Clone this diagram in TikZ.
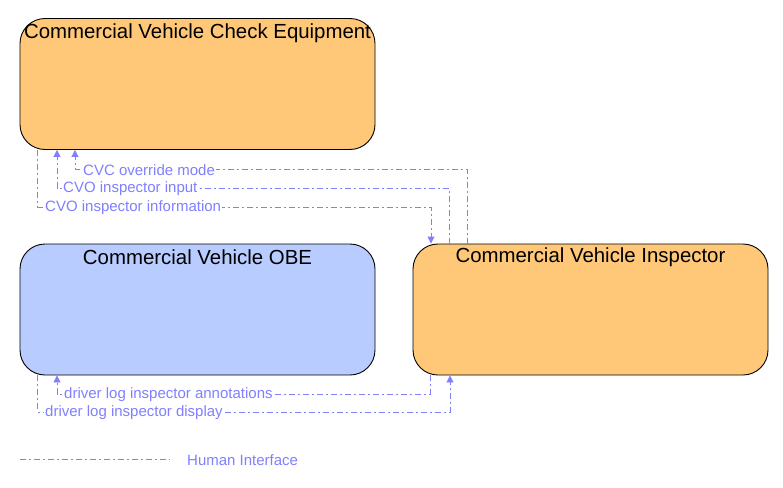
\documentclass[tikz,border=0pt]{standalone}
\usepackage{fontspec}
\setmainfont{Liberation Sans}
\usetikzlibrary{arrows.meta,calc}
\definecolor{boxorange}{RGB}{255,200,121}
\definecolor{boxblue}{RGB}{185,204,255}
\definecolor{flowcol}{RGB}{128,128,255}
\tikzset{
  sysbox/.style={draw=black, line width=0.9pt, rounded corners=25pt, minimum width=355pt, minimum height=131pt, inner sep=0pt},
  titletext/.style={font=\fontsize{20.4}{23}\selectfont, text=black},
  flow/.style={draw=flowcol, line width=0.9pt, dash pattern=on 6pt off 3pt on 2pt off 3pt},
  flowarrow/.style={flow, -{Triangle[width=7pt,length=7pt]}},
  flowlabel/.style={font=\fontsize{15}{17}\selectfont, text=flowcol, fill=white, inner sep=1pt, anchor=west}
}
\begin{document}
\begin{tikzpicture}[x=1pt,y=-1pt]
\useasboundingbox (0,0) rectangle (783,487);
\node[sysbox, fill=boxorange, label={[titletext, anchor=center, yshift=-15pt]north:Commercial Vehicle Check Equipment}] (cvce) at (197.5,84) {};
\node[sysbox, fill=boxblue, label={[titletext, anchor=center, yshift=-14pt]north:Commercial Vehicle OBE}] (obe) at (197.5,309.5) {};
\node[sysbox, fill=boxorange, label={[titletext, anchor=center, yshift=-14pt]north:Commercial Vehicle Inspector}] (insp) at (590.5,309.5) {};

% CVC override mode
\draw[flowarrow] ([xshift=55pt]insp.north west) |- (75,169) coordinate (c1) -- (c1 |- cvce.south);
\node[flowlabel] at (82,170) {CVC override mode};
% CVO inspector input
\draw[flowarrow] ([xshift=37pt]insp.north west) |- (57,188) coordinate (c2) -- (c2 |- cvce.south);
\node[flowlabel] at (62,189) {CVO inspector input};
% CVO inspector information
\draw[flowarrow] ([xshift=18pt]cvce.south west) |- (431,207) coordinate (c3) -- (c3 |- insp.north);
\node[flowlabel] at (44,208) {CVO inspector information};
% driver log inspector annotations
\draw[flowarrow] ([xshift=18pt]insp.south west) |- (57,394) coordinate (c4) -- (c4 |- obe.south);
\node[flowlabel] at (63,395) {driver log inspector annotations};
% driver log inspector display
\draw[flowarrow] ([xshift=18pt]obe.south west) |- (450,412) coordinate (c5) -- (c5 |- insp.south);
\node[flowlabel] at (44,413) {driver log inspector display};

% legend
\coordinate (la) at (20,459);
\coordinate (lb) at (170,459);
\draw[flow] (la) -- (lb);
\node[flowlabel, fill=none] (lt) at (186,460) {Human Interface};
\end{tikzpicture}
\end{document}
